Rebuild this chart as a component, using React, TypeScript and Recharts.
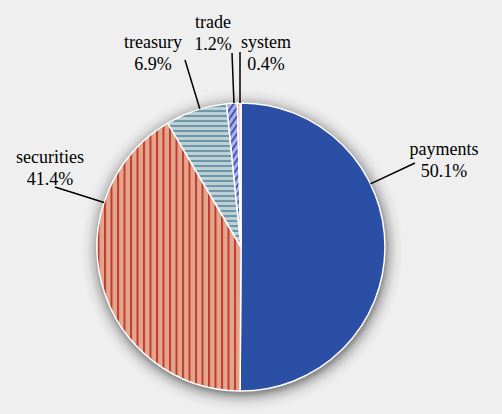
import { PieChart, Pie, Cell } from "recharts";

const categories = ["payments", "securities", "treasury", "trade", "system"];
const shares = [50.1, 41.4, 6.9, 1.2, 0.4];

const fills = ["#2c4fa6", "url(#stripeSec)", "url(#stripeTreas)", "url(#stripeTrade)", "url(#stripeSys)"];

// where each leader line starts (angle on the rim) and where its label sits, relative to the pie centre
const labelLayout: Record<string, { angle: number; end: [number, number]; text: [number, number] }> = {
  payments: { angle: 26, end: [174, -84], text: [203, -92] },
  securities: { angle: 162, end: [-186, -60], text: [-191, -84] },
  treasury: { angle: 106.6, end: [-56, -187], text: [-88, -199] },
  trade: { angle: 92.8, end: [-9, -194], text: [-28, -219] },
  system: { angle: 90.4, end: [-1, -195], text: [25, -199] },
};

const data = categories.map((name, i) => ({ name, value: shares[i] }));

const RAD = Math.PI / 180;
const serif = { fontFamily: "'Liberation Serif', 'Times New Roman', serif" };

// soft shadow behind the pie, painted as a css gradient on the background
const halo =
  "radial-gradient(circle at 242px 250px, rgba(80,80,80,0.6) 0px, rgba(80,80,80,0.6) 143px, " +
  "rgba(90,90,90,0.3) 148px, rgba(110,110,110,0.1) 154px, rgba(120,120,120,0) 161px), #efefef";

function renderLabel(props: any) {
  const { cx, cy, outerRadius, name, value } = props;
  const l = labelLayout[name];
  if (!l) return null;
  const sx = cx + outerRadius * Math.cos(l.angle * RAD);
  const sy = cy - outerRadius * Math.sin(l.angle * RAD);
  const tx = cx + l.text[0];
  const ty = cy + l.text[1];
  return (
    <g>
      <line x1={sx} y1={sy} x2={cx + l.end[0]} y2={cy + l.end[1]} stroke="#000" strokeWidth={1.5} />
      <text x={tx} y={ty} textAnchor="middle" fontSize={18} fill="#000" style={serif}>
        <tspan x={tx} y={ty}>{name}</tspan>
        <tspan x={tx} y={ty + 22}>{value.toFixed(1)}%</tspan>
      </text>
    </g>
  );
}

export default function App() {
  return (
    <div style={{ position: "absolute", left: 0, top: 0, width: 502, height: 414, background: halo }}>
      <svg width={0} height={0} style={{ position: "absolute" }}>
        <defs>
          <pattern id="stripeSec" patternUnits="userSpaceOnUse" width={6.5} height={10}>
            <rect width={6.5} height={10} fill="#e2a58d" />
            <rect x={0} width={2} height={10} fill="#c23b2c" />
          </pattern>
          <pattern id="stripeTreas" patternUnits="userSpaceOnUse" width={10} height={5}>
            <rect width={10} height={5} fill="#bdd0d6" />
            <rect y={0} width={10} height={2} fill="#6e98a8" />
          </pattern>
          <pattern id="stripeTrade" patternUnits="userSpaceOnUse" width={5} height={5} patternTransform="rotate(35)">
            <rect width={5} height={5} fill="#aab1e6" />
            <rect x={0} width={1.8} height={5} fill="#3a4fae" />
          </pattern>
          <pattern id="stripeSys" patternUnits="userSpaceOnUse" width={4} height={4}>
            <rect width={4} height={4} fill="#f3d8cc" />
            <rect x={1} width={1.5} height={2.5} fill="#d9603f" />
          </pattern>
        </defs>
      </svg>
      <PieChart width={502} height={414} margin={{ top: 0, right: 0, bottom: 0, left: 0 }}>
        <Pie
          data={data}
          dataKey="value"
          nameKey="name"
          cx={241}
          cy={247}
          outerRadius={144}
          startAngle={90}
          endAngle={-270}
          stroke="#ffffff"
          strokeWidth={1.5}
          isAnimationActive={false}
          labelLine={false}
          label={renderLabel}
        >
          {data.map((d, i) => (
            <Cell key={d.name} fill={fills[i]} />
          ))}
        </Pie>
      </PieChart>
    </div>
  );
}
